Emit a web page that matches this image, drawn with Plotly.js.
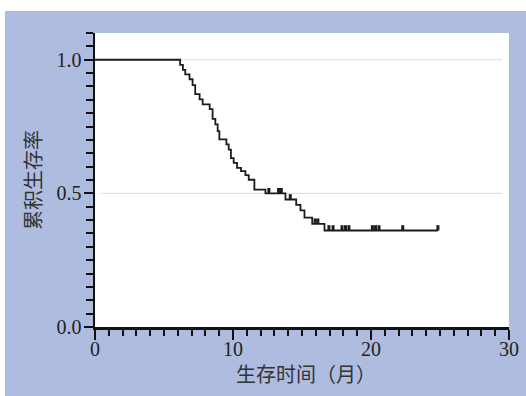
<!DOCTYPE html>
<html>
<head>
<meta charset="utf-8">
<script src="https://cdn.plot.ly/plotly-3.0.1.min.js"></script>
<style>
  html, body { margin: 0; padding: 0; background: #ffffff; width: 526px; height: 396px; overflow: hidden; }
  #chart { position: absolute; left: 5px; top: 11px; width: 521px; height: 385px; }
</style>
</head>
<body>
<div id="chart"></div>
<script>
// Kaplan-Meier step points (time in months, cumulative survival)
const stepTimes = [0, 6.17, 6.37, 6.54, 6.85, 7.07, 7.26, 7.58, 7.80, 8.31, 8.52, 8.72, 8.89, 9.01,
  9.52, 9.69, 9.85, 10.05, 10.29, 10.58, 10.90, 11.14, 11.55, 12.35, 13.80, 14.58, 14.89, 15.18,
  15.74, 16.63, 24.85];
const stepSurv = [1.000, 0.981, 0.962, 0.945, 0.927, 0.905, 0.871, 0.852, 0.833, 0.815, 0.779, 0.758,
  0.733, 0.702, 0.683, 0.664, 0.632, 0.614, 0.595, 0.583, 0.568, 0.551, 0.514, 0.500, 0.477, 0.457,
  0.436, 0.409, 0.386, 0.361, 0.361];
// Censored observations (times in months)
const censorTimes = [12.6, 13.3, 13.5, 14.15, 15.95, 16.15, 16.95, 17.25, 17.9, 18.15, 18.4,
  20.1, 20.33, 20.58, 22.3, 24.85];
// Axis labels and grid levels
const xTitle = '生存时间（月）';
const yTitle = '累积生存率';
const gridLevels = [0.5, 1.0];

function survAt(t) {
  let s = stepSurv[0];
  for (let i = 0; i < stepTimes.length; i++) {
    if (stepTimes[i] <= t) s = stepSurv[i]; else break;
  }
  return s;
}
const censorSurv = censorTimes.map(survAt);

const lineColor = '#1c1c1c';
const traces = [
  {
    x: stepTimes, y: stepSurv, type: 'scatter', mode: 'lines',
    line: { shape: 'hv', color: lineColor, width: 1.8 },
    hoverinfo: 'skip', showlegend: false
  },
  {
    x: censorTimes, y: censorSurv, type: 'scatter', mode: 'markers',
    marker: { size: 1, color: lineColor, opacity: 0 },
    error_y: { type: 'constant', symmetric: false, value: 0.02, valueminus: 0,
      width: 0, thickness: 3, color: lineColor },
    hoverinfo: 'skip', showlegend: false
  }
];

const tickFont = { family: 'Liberation Serif, Times New Roman, serif', size: 20, color: '#222' };
const titleFont = { family: 'Noto Sans CJK SC, sans-serif', size: 20, color: '#333' };

const shapes = gridLevels.map(v => ({
  type: 'line', xref: 'x', yref: 'y', x0: 0.4, x1: 29.5, y0: v, y1: v,
  line: { color: '#dcdcdc', width: 1 }, layer: 'below'
}));

const layout = {
  width: 521, height: 385,
  margin: { l: 90, r: 17, t: 22, b: 69 },
  paper_bgcolor: '#aebce0',
  plot_bgcolor: '#ffffff',
  showlegend: false,
  shapes: shapes,
  xaxis: {
    range: [0, 30], dtick: 10, tick0: 0,
    ticks: 'outside', ticklen: 10, tickwidth: 2, tickcolor: '#111',
    minor: { dtick: 1, ticks: 'outside', ticklen: 6, tickwidth: 2, tickcolor: '#111' },
    showline: true, linewidth: 2.5, linecolor: '#111',
    showgrid: false, zeroline: false,
    tickfont: tickFont, ticklabelstandoff: -8,
    automargin: false
  },
  yaxis: {
    range: [0, 1.1], dtick: 0.5, tick0: 0, tickformat: '.1f',
    ticks: 'outside', ticklen: 9, tickwidth: 2, tickcolor: '#111',
    minor: { dtick: 0.05, ticks: 'outside', ticklen: 7, tickwidth: 2, tickcolor: '#111', showgrid: false },
    showline: true, linewidth: 2.5, linecolor: '#111',
    showgrid: false,
    zeroline: false,
    tickfont: tickFont, ticklabelstandoff: -2,
    automargin: false
  },
  annotations: [
    {
      text: xTitle, xref: 'paper', yref: 'paper', x: 0.51, y: 0,
      xanchor: 'center', yanchor: 'middle', yshift: -46,
      showarrow: false, font: titleFont
    },
    {
      text: yTitle, xref: 'paper', yref: 'paper', x: 0, y: 0.5,
      xanchor: 'center', yanchor: 'middle', xshift: -63, textangle: -90,
      showarrow: false, font: titleFont
    }
  ]
};

Plotly.newPlot('chart', traces, layout, { displayModeBar: false, staticPlot: true });
</script>
</body>
</html>
